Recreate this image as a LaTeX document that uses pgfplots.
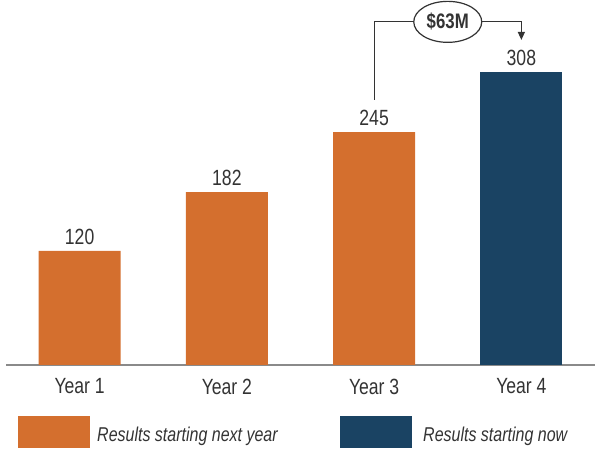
\documentclass[border=0pt]{standalone}
\usepackage{pgfplots}
\pgfplotsset{compat=1.18}
\usepackage{fontspec}
\setmainfont{Liberation Sans}[FakeStretch=0.8]
\usetikzlibrary{shapes.geometric,arrows.meta}
\definecolor{barorange}{HTML}{D46F2E}
\definecolor{barnavy}{HTML}{1A4363}
\definecolor{txt}{HTML}{333333}
\definecolor{axisgray}{HTML}{8A8A8A}
\begin{document}
\begin{tikzpicture}
\useasboundingbox (0,0) rectangle (600bp,451bp);
\begin{axis}[
  at={(6bp,86bp)}, anchor=south west,
  scale only axis, width=589bp, height=365bp,
  xmin=-0.5, xmax=3.5, ymin=0, ymax=384,
  axis x line*=bottom, axis y line=none,
  x axis line style={-, draw=axisgray, line width=1.3bp},
  xtick={0,1,2,3}, xticklabels={Year 1,Year 2,Year 3,Year 4},
  major tick length=0pt,
  xticklabel style={anchor=north, inner sep=0pt, yshift=-13.5bp, text=txt, font=\fontsize{22bp}{25bp}\selectfont},
  ytick=\empty,
  /pgf/number format/assume math mode=true,
  ybar, bar width=82bp, bar shift=0pt,
  clip=false,
  nodes near coords,
  every node near coord/.append style={anchor=south, inner sep=0pt, yshift=6.5bp, text=txt, font=\fontsize{22bp}{25bp}\selectfont},
]
\addplot[fill=barorange, draw=none] coordinates {(0,120) (1,182) (2,245)};
\addplot[fill=barnavy, draw=none] coordinates {(3,308)};
\draw[txt, line width=1.2bp, -{Triangle[width=7bp,length=8bp]}]
  (axis cs:2,279) -- (axis cs:2,361) -- (axis cs:3,361) -- (axis cs:3,342);
\node[ellipse, draw=txt, line width=1.2bp, fill=white, minimum width=68bp, minimum height=41bp, inner sep=0pt, text=txt, font=\bfseries\fontsize{21bp}{24bp}\selectfont] at (axis cs:2.5,361) {\$63M};
\end{axis}
% legend
\fill[barorange] (18bp,3bp) rectangle (90bp,35bp);
\node[anchor=base west, inner sep=0pt, text=txt, font=\itshape\fontsize{20bp}{24bp}\selectfont] at (97bp,9.5bp) {Results starting next year};
\fill[barnavy] (340bp,3bp) rectangle (412bp,35bp);
\node[anchor=base west, inner sep=0pt, text=txt, font=\itshape\fontsize{20bp}{24bp}\selectfont] at (423bp,9.5bp) {Results starting now};
\end{tikzpicture}
\end{document}
